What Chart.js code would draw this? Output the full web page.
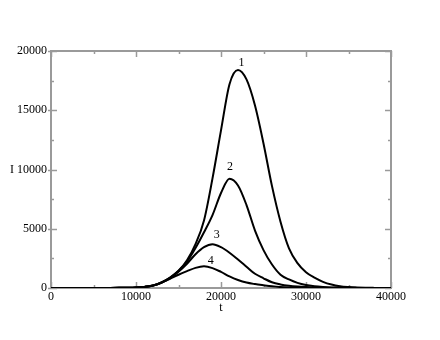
<!DOCTYPE html>
<html>
<head>
<meta charset="utf-8">
<script src="https://cdn.jsdelivr.net/npm/chart.js@4"></script>
<style>
  html, body { margin: 0; padding: 0; background: #fff; }
  #wrap { width: 440px; height: 340px; }
</style>
</head>
<body>
<div id="wrap"><canvas id="epiChart"></canvas></div>
<script>
// Dados
const tValues = [0, 1000, 2000, 3000, 4000, 5000, 6000, 7000, 8000, 9000,
    10000, 11000, 12000, 13000, 14000, 15000, 16000, 17000, 18000, 19000,
    20000, 21000, 22000, 23000, 24000, 25000, 26000, 27000, 28000, 29000,
    30000, 31000, 32000, 33000, 34000, 35000, 36000, 37000, 38000, 39000, 40000];

const curve1 = [0, 0, 0, 0, 0, 1, 3, 5, 11, 22,
    45, 95, 210, 470, 880, 1450, 2340, 3700, 5700, 9250,
    13300, 17200, 18400, 17600, 15400, 12200, 8600, 5600, 3350, 2100,
    1330, 870, 520, 290, 150, 80, 40, 20, 10, 5, 2];

const curve2 = [0, 0, 0, 0, 0, 1, 3, 5, 11, 22,
    45, 95, 210, 465, 860, 1430, 2220, 3370, 4700, 6150,
    8020, 9220, 8650, 7000, 4850, 3200, 1980, 1120, 720, 430,
    250, 150, 90, 50, 30, 17, 10, 6, 3, 2, 1];

const curve3 = [0, 0, 0, 0, 0, 1, 3, 5, 11, 22,
    45, 95, 205, 455, 840, 1380, 2050, 2850, 3450, 3700,
    3450, 2980, 2400, 1800, 1200, 820, 480, 300, 190, 120,
    75, 45, 27, 16, 10, 6, 3, 2, 1, 1, 0];

const curve4 = [0, 0, 0, 0, 0, 1, 3, 5, 11, 22,
    45, 95, 200, 440, 780, 1120, 1420, 1700, 1830, 1680,
    1360, 980, 680, 460, 330, 230, 140, 80, 45, 25,
    14, 8, 4, 2, 1, 0, 0, 0, 0, 0, 0];

const curveLabels = ['1', '2', '3', '4'];
const labelT = [22400, 21050, 19500, 18800];
const labelI = [19000, 10200, 4450, 2300];

const xTicks = [0, 10000, 20000, 30000, 40000];
const yTicks = [0, 5000, 10000, 15000, 20000];

const axisGray = '#9a9a9a';
const serif = "'Liberation Serif', 'DejaVu Serif', serif";

function toPoints(values) {
    return tValues.map((t, i) => ({ x: t, y: values[i] }));
}

// Moldura com marcas para dentro nos quatro lados
const framePlugin = {
    id: 'frame',
    beforeDatasetsDraw(chart) {
        const { ctx, chartArea: a, scales } = chart;
        ctx.save();
        ctx.strokeStyle = axisGray;
        ctx.lineWidth = 1.5;
        // marcas do eixo x (maiores a cada 10000, menores a cada 5000)
        for (let v = 0; v <= 40000; v += 5000) {
            const px = Math.round(scales.x.getPixelForValue(v)) + 0.5;
            const len = (v % 10000 === 0) ? 6 : 3;
            ctx.beginPath();
            ctx.moveTo(px, a.bottom); ctx.lineTo(px, a.bottom - len);
            ctx.moveTo(px, a.top); ctx.lineTo(px, a.top + len);
            ctx.stroke();
        }
        // marcas do eixo y (maiores a cada 5000, menores a cada 2500)
        for (let v = 0; v <= 20000; v += 2500) {
            const py = Math.round(scales.y.getPixelForValue(v)) + 0.5;
            const len = (v % 5000 === 0) ? 6 : 3;
            ctx.beginPath();
            ctx.moveTo(a.left - (len === 6 ? 3 : 0), py); ctx.lineTo(a.left + len, py);
            ctx.moveTo(a.right, py); ctx.lineTo(a.right - len, py);
            ctx.stroke();
        }
        ctx.lineWidth = 2;
        ctx.strokeRect(a.left, a.top, a.right - a.left, a.bottom - a.top);
        ctx.restore();
    },
    afterDraw(chart) {
        const { ctx, chartArea: a, scales } = chart;
        ctx.save();
        ctx.fillStyle = '#000';
        ctx.font = '12px ' + serif;
        ctx.textAlign = 'center';
        ctx.textBaseline = 'middle';
        curveLabels.forEach((txt, i) => {
            ctx.fillText(txt, scales.x.getPixelForValue(labelT[i]), scales.y.getPixelForValue(labelI[i]));
        });
        // títulos dos eixos
        ctx.fillText('t', scales.x.getPixelForValue(20000), a.bottom + 20);
        ctx.fillText('I', 12, scales.y.getPixelForValue(10000));
        ctx.restore();
    }
};

const lineStyle = {
    borderColor: '#000',
    borderWidth: 2,
    pointRadius: 0,
    fill: false,
    cubicInterpolationMode: 'monotone'
};

new Chart(document.getElementById('epiChart'), {
    type: 'line',
    data: {
        datasets: [
            { label: '1', data: toPoints(curve1), ...lineStyle },
            { label: '2', data: toPoints(curve2), ...lineStyle },
            { label: '3', data: toPoints(curve3), ...lineStyle },
            { label: '4', data: toPoints(curve4), ...lineStyle }
        ]
    },
    options: {
        responsive: true,
        maintainAspectRatio: false,
        animation: false,
        layout: { padding: { left: 0, top: 51, right: 49, bottom: 0 } },
        plugins: {
            legend: { display: false },
            tooltip: { enabled: false }
        },
        scales: {
            x: {
                type: 'linear',
                min: 0,
                max: 40000,
                afterFit: (scale) => { scale.height = 52; },
                afterBuildTicks: (scale) => { scale.ticks = xTicks.map(v => ({ value: v })); },
                grid: { display: false, drawTicks: false, tickLength: 0 },
                border: { display: false },
                ticks: {
                    color: '#000',
                    padding: 2,
                    maxRotation: 0,
                    font: { family: serif, size: 12 },
                    callback: (v) => String(v)
                }
            },
            y: {
                type: 'linear',
                min: 0,
                max: 20000,
                afterFit: (scale) => { scale.width = 51; },
                afterBuildTicks: (scale) => { scale.ticks = yTicks.map(v => ({ value: v })); },
                grid: { display: false, drawTicks: false, tickLength: 0 },
                border: { display: false },
                ticks: {
                    color: '#000',
                    padding: 4,
                    font: { family: serif, size: 12 },
                    callback: (v) => String(v)
                }
            }
        }
    },
    plugins: [framePlugin]
});
</script>
</body>
</html>
